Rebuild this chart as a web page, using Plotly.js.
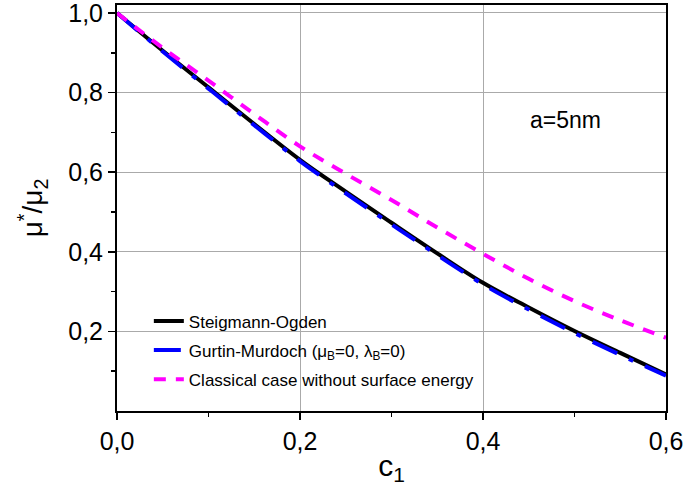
<!DOCTYPE html>
<html>
<head>
<meta charset="utf-8">
<script src="https://cdn.plot.ly/plotly-3.0.1.min.js"></script>
<style>html,body{margin:0;padding:0;background:#fff}#chart{width:685px;height:488px}</style>
</head>
<body>
<div id="chart"></div>
<script>
var c1 = [0, 0.05, 0.1, 0.15, 0.2, 0.25, 0.3, 0.35, 0.4, 0.45, 0.5, 0.55, 0.6];
var steigmannOgden = [1.0, 0.905, 0.813, 0.721, 0.631, 0.551, 0.473, 0.396, 0.322, 0.260, 0.201, 0.146, 0.092];
var gurtinMurdoch = [1.0, 0.903, 0.810, 0.718, 0.628, 0.547, 0.469, 0.392, 0.318, 0.255, 0.196, 0.141, 0.089];
var classical = [1.0, 0.912, 0.830, 0.746, 0.665, 0.596, 0.530, 0.461, 0.395, 0.332, 0.276, 0.228, 0.184];
var seriesNames = ['Steigmann-Ogden', 'Gurtin-Murdoch (μ<sub>B</sub>=0, λ<sub>B</sub>=0)', 'Classical case without surface energy'];
var xTicks = [0, 0.2, 0.4, 0.6];
var yTicks = [0.2, 0.4, 0.6, 0.8, 1.0];
var xMinor = [0.1, 0.3, 0.5];
var yMinor = [0.1, 0.3, 0.5, 0.7, 0.9];

var traces = [
  {x: c1, y: steigmannOgden, name: seriesNames[0], mode: 'lines', legendgroup: 'a',
   line: {color: '#000000', width: 4, shape: 'spline'}},
  {x: c1, y: gurtinMurdoch, name: seriesNames[1], mode: 'lines', legendgroup: 'b',
   line: {color: '#0000ff', width: 4, shape: 'spline', dash: '27px,13px,5px,13px'}},
  {x: c1, y: classical, name: seriesNames[2], mode: 'lines', legendgroup: 'c',
   line: {color: '#ff00ff', width: 4, shape: 'spline', dash: '12px,10px'}}
];

var layout = {
  width: 685, height: 488,
  margin: {l: 117, r: 19, t: 5, b: 77},
  paper_bgcolor: '#ffffff', plot_bgcolor: '#ffffff',
  separators: ',.',
  font: {family: 'Arial, "Liberation Sans", sans-serif', color: '#000'},
  showlegend: true,
  legend: {x: 0.058, y: 0.265, xanchor: 'left', yanchor: 'top', bgcolor: 'rgba(0,0,0,0)',
           font: {size: 17, color: '#000'}, traceorder: 'grouped', tracegroupgap: 4},
  xaxis: {
    range: [0, 0.6], tickvals: xTicks, tickformat: '.1f',
    showline: true, linecolor: '#000', linewidth: 2, mirror: true,
    ticks: 'outside', ticklen: 7, tickwidth: 1.5, tickcolor: '#000',
    showgrid: true, gridcolor: '#aaaaaa', gridwidth: 1, zeroline: false,
    tickfont: {size: 25}, ticklabeloverflow: 'allow',
    minor: {tickvals: xMinor, ticks: 'outside', ticklen: 4, tickcolor: '#000', showgrid: false},
    title: {text: 'c<sub>1</sub>', font: {size: 30}, standoff: 1}
  },
  yaxis: {
    range: [0, 1.02], tickvals: yTicks, tickformat: '.1f',
    showline: true, linecolor: '#000', linewidth: 2, mirror: true,
    ticks: 'outside', ticklen: 7, tickwidth: 1.5, tickcolor: '#000',
    showgrid: true, gridcolor: '#aaaaaa', gridwidth: 1, zeroline: false,
    tickfont: {size: 25}, ticklabeloverflow: 'allow',
    minor: {tickvals: yMinor, ticks: 'outside', ticklen: 4, tickcolor: '#000', showgrid: false},
    title: {text: 'μ<sup>*</sup>/μ<sub>2</sub>', font: {size: 28}, standoff: 17}
  },
  annotations: [{
    x: 0.449, y: 0.73, xref: 'x', yref: 'y', xanchor: 'left', yanchor: 'middle',
    text: 'a=5nm', showarrow: false, font: {size: 23, color: '#000'}
  }]
};

Plotly.newPlot('chart', traces, layout, {displayModeBar: false, staticPlot: true});
</script>
</body>
</html>
